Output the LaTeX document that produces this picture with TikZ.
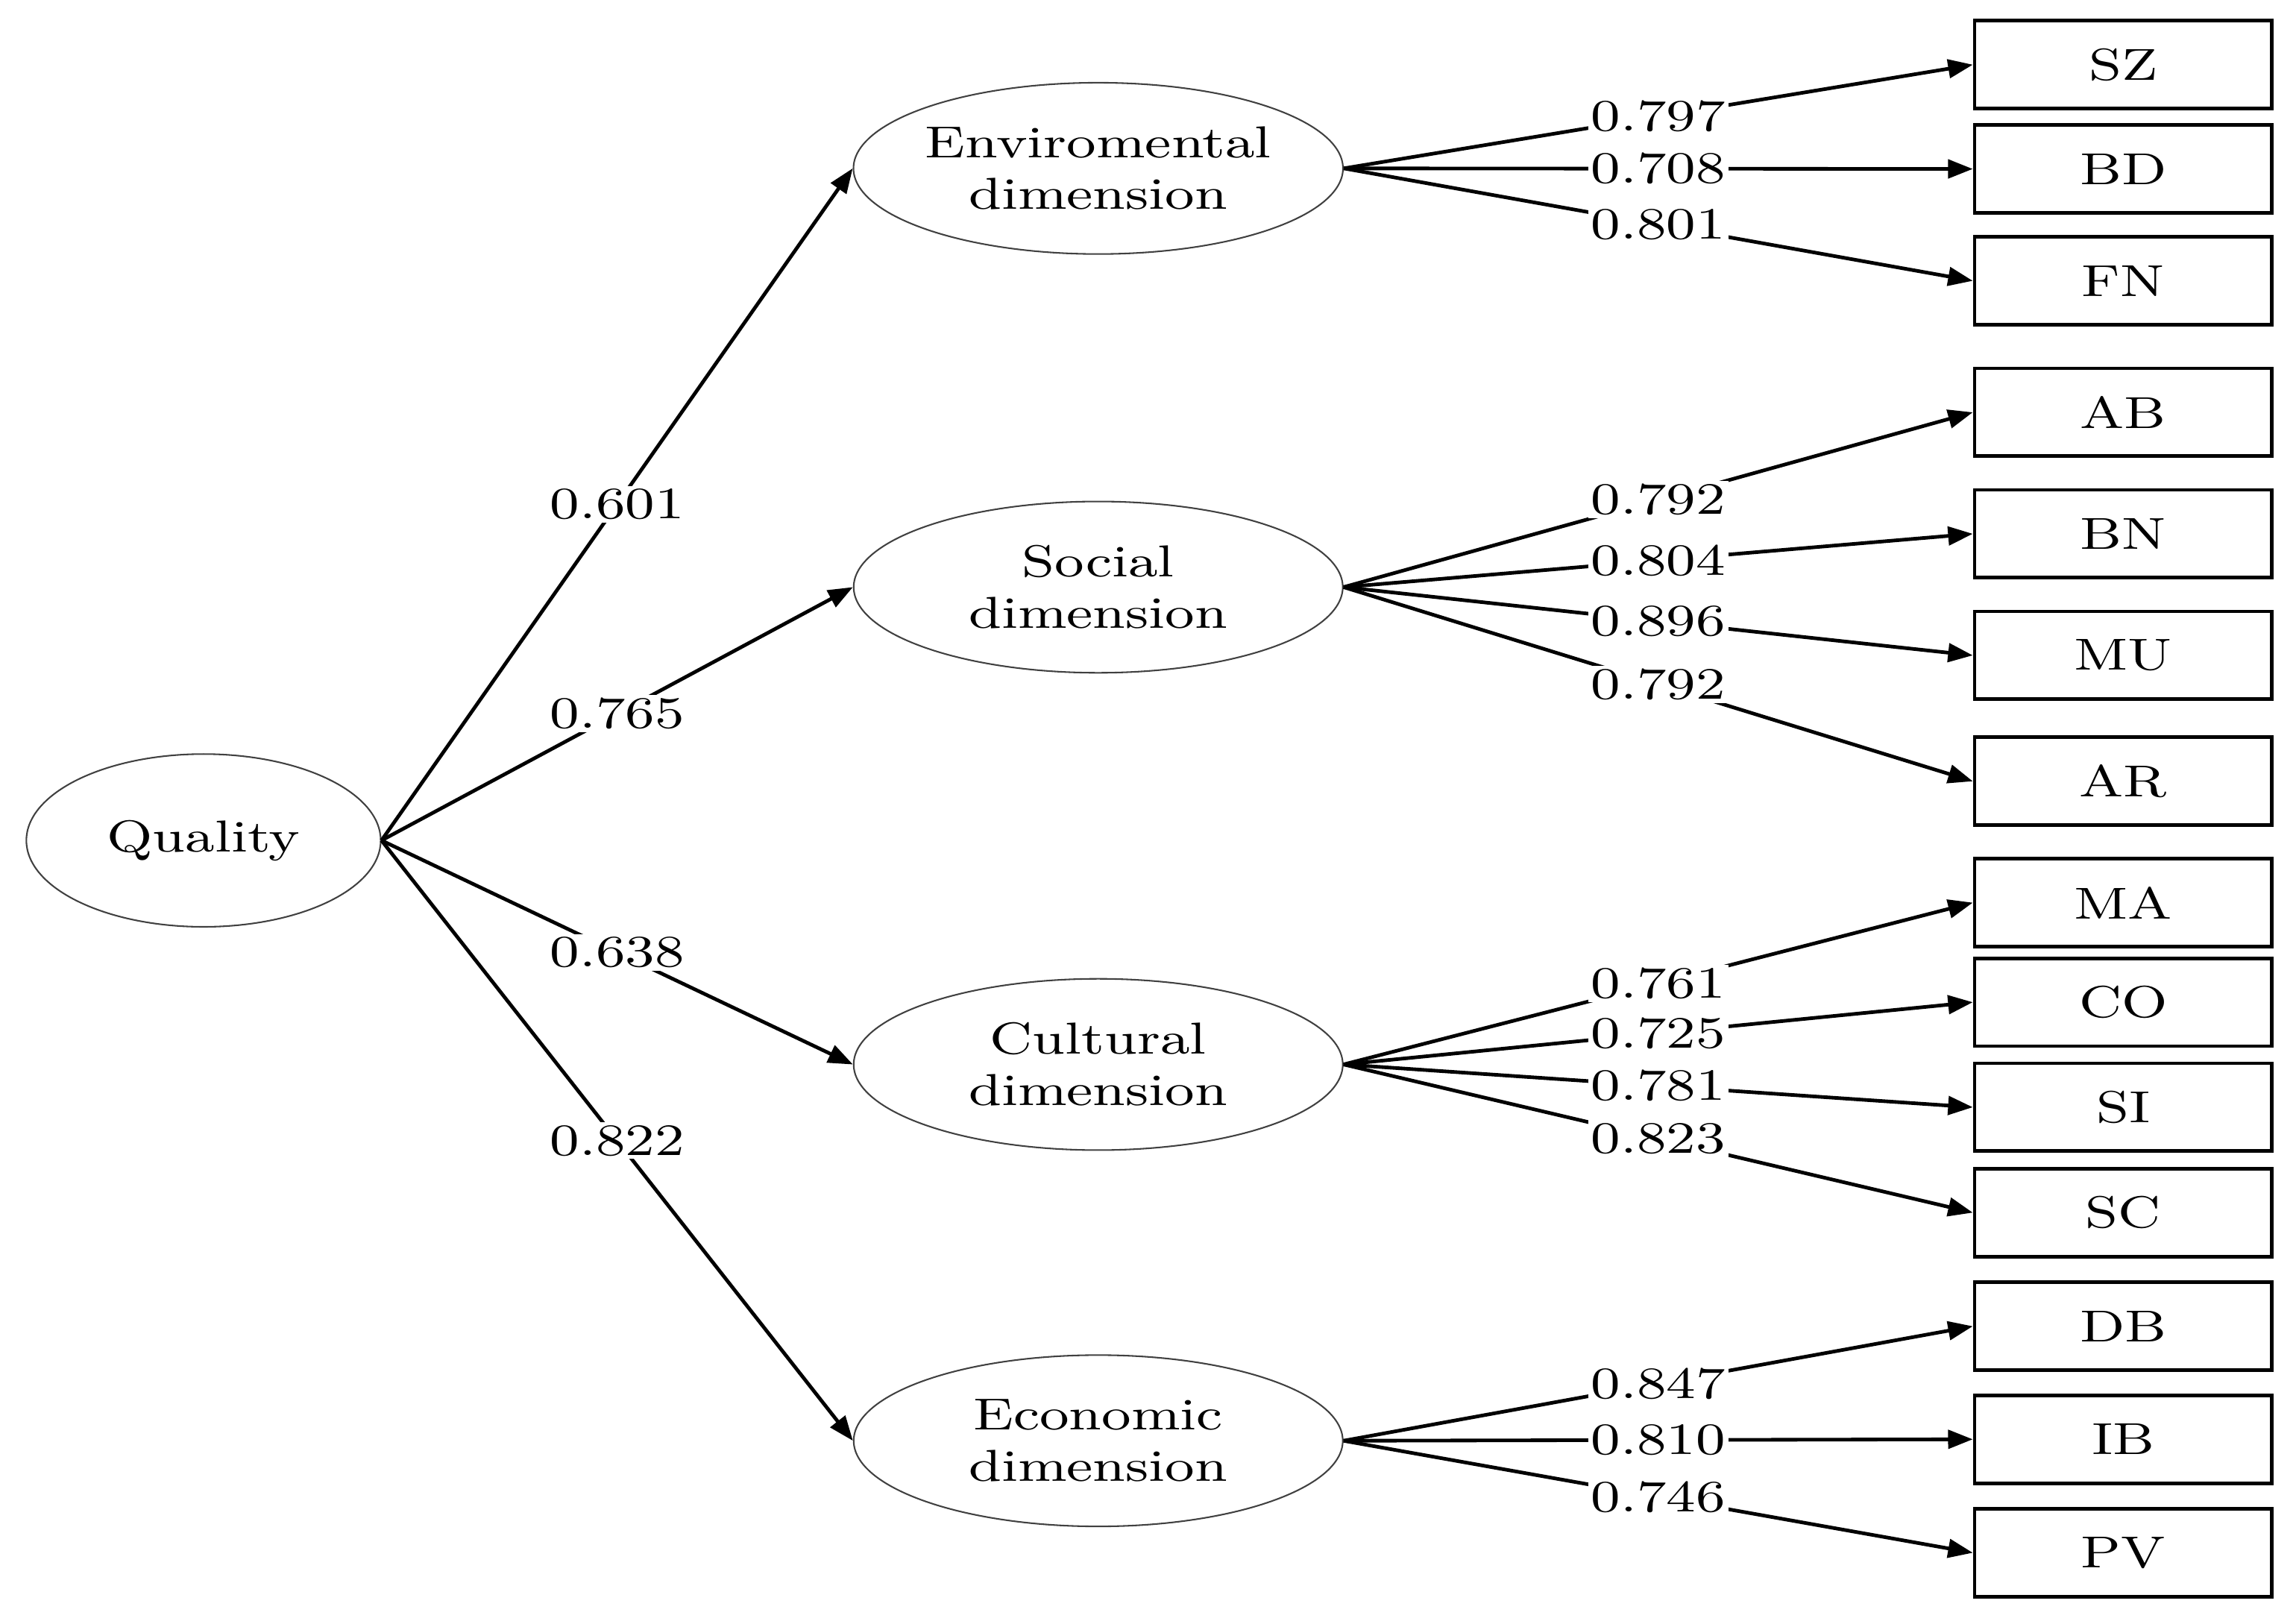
\documentclass[tikz,border=0pt]{standalone}
\usepackage{fontspec}
\setmainfont{Latin Modern Roman}[FakeStretch=1.28]
\usetikzlibrary{shapes.geometric}
\usetikzlibrary{arrows.meta}

\begin{document}
\begin{tikzpicture}[
  font=\fontsize{8.7}{10}\selectfont,
  latent/.style={ellipse,draw=black!75,line width=0.3pt,inner sep=0pt,
    minimum width=3.34cm,minimum height=1.17cm,align=center},
  item/.style={rectangle,draw,line width=0.7pt,inner sep=0pt,
    minimum width=2.03cm,minimum height=0.6cm},
  link/.style={-{Triangle[length=4.8pt,width=3.6pt]},line width=0.7pt},
  coef/.style={fill=white,inner sep=0.6pt}]
\useasboundingbox (0,0) rectangle (15.68,-11.09);

% Variable principale
\node[latent,minimum width=2.42cm,minimum height=1.18cm] (Q) at (1.39,-5.74) {Quality};

% Dimensions
\node[latent] (E) at (7.50,-1.15) {Enviromental\\dimension};
\node[latent] (S) at (7.50,-4.01) {Social\\dimension};
\node[latent] (C) at (7.50,-7.27) {Cultural\\dimension};
\node[latent] (Ec) at (7.50,-9.84) {Economic\\dimension};

% Indicateurs
\node[item] (SZ) at (14.50,-0.442) {SZ};
\node[item] (BD) at (14.50,-1.154) {BD};
\node[item] (FN) at (14.50,-1.918) {FN};
\node[item] (AB) at (14.50,-2.816) {AB};
\node[item] (BN) at (14.50,-3.646) {BN};
\node[item] (MU) at (14.50,-4.476) {MU};
\node[item] (AR) at (14.50,-5.336) {AR};
\node[item] (MA) at (14.50,-6.165) {MA};
\node[item] (CO) at (14.50,-6.845) {CO};
\node[item] (SI) at (14.50,-7.562) {SI};
\node[item] (SC) at (14.50,-8.282) {SC};
\node[item] (DB) at (14.50,-9.058) {DB};
\node[item] (IB) at (14.50,-9.830) {IB};
\node[item] (PV) at (14.50,-10.605) {PV};

% Quality vers dimensions
\draw[link] (Q.east) -- (E.west) node[coef,midway] {0.601};
\draw[link] (Q.east) -- (S.west) node[coef,midway] {0.765};
\draw[link] (Q.east) -- (C.west) node[coef,midway] {0.638};
\draw[link] (Q.east) -- (Ec.west) node[coef,midway] {0.822};

% Dimension environnementale
\draw[link] (E.east) -- (SZ.west) node[coef,midway] {0.797};
\draw[link] (E.east) -- (BD.west) node[coef,midway] {0.708};
\draw[link] (E.east) -- (FN.west) node[coef,midway] {0.801};

% Dimension sociale
\draw[link] (S.east) -- (AB.west) node[coef,midway] {0.792};
\draw[link] (S.east) -- (BN.west) node[coef,midway] {0.804};
\draw[link] (S.east) -- (MU.west) node[coef,midway] {0.896};
\draw[link] (S.east) -- (AR.west) node[coef,midway] {0.792};

% Dimension culturelle
\draw[link] (C.east) -- (MA.west) node[coef,midway] {0.761};
\draw[link] (C.east) -- (CO.west) node[coef,midway] {0.725};
\draw[link] (C.east) -- (SI.west) node[coef,midway] {0.781};
\draw[link] (C.east) -- (SC.west) node[coef,midway] {0.823};

% Dimension economique
\draw[link] (Ec.east) -- (DB.west) node[coef,midway] {0.847};
\draw[link] (Ec.east) -- (IB.west) node[coef,midway] {0.810};
\draw[link] (Ec.east) -- (PV.west) node[coef,midway] {0.746};
\end{tikzpicture}
\end{document}
